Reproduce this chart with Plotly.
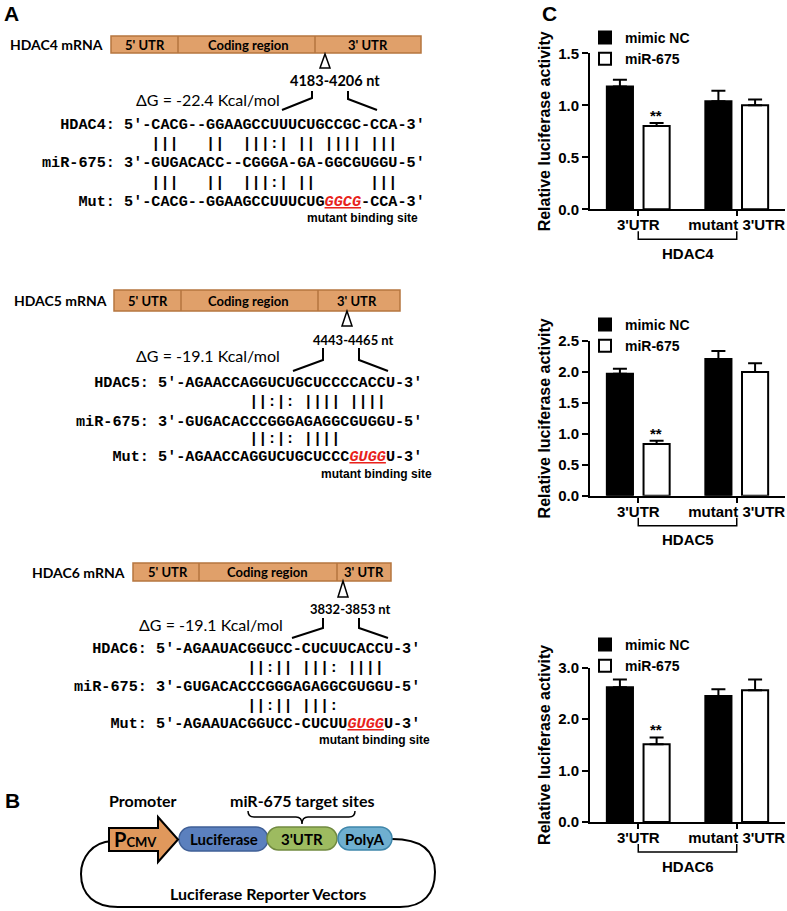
import plotly.graph_objects as go

W, H = 787, 911


def X(px):
    return px / W


def Y(py):
    return 1 - py / H


# ---------------- data: panel C ----------------
categories = ["3'UTR", "mutant 3'UTR"]
series_names = ["mimic NC", "miR-675"]
genes = ["HDAC4", "HDAC5", "HDAC6"]

hdac4_mimic_nc = [1.18, 1.04]
hdac4_mimic_nc_err = [0.065, 0.10]
hdac4_mir675 = [0.80, 1.00]
hdac4_mir675_err = [0.03, 0.055]

hdac5_mimic_nc = [1.97, 2.21]
hdac5_mimic_nc_err = [0.08, 0.13]
hdac5_mir675 = [0.835, 2.00]
hdac5_mir675_err = [0.055, 0.14]

hdac6_mimic_nc = [2.62, 2.45]
hdac6_mimic_nc_err = [0.15, 0.13]
hdac6_mir675 = [1.51, 2.56]
hdac6_mir675_err = [0.135, 0.21]

y_ranges = [[0, 1.5], [0, 2.5], [0, 3.0]]
y_dticks = [0.5, 0.5, 1.0]
signif_marks = ["**", "**", "**"]

# ---------------- data: panel A ----------------
mrna_labels = ["HDAC4 mRNA", "HDAC5 mRNA", "HDAC6 mRNA"]
region_labels = ["5' UTR", "Coding region", "3' UTR"]
site_ranges = ["4183-4206 nt", "4443-4465 nt", "3832-3853 nt"]
delta_g = ["ΔG = -22.4 Kcal/mol", "ΔG = -19.1 Kcal/mol", "ΔG = -19.1 Kcal/mol"]

target_seqs = ["5′-CACG--GGAAGCCUUUCUGCCGC-CCA-3′",
               "5′-AGAACCAGGUCUGCUCCCCACCU-3′",
               "5′-AGAAUACGGUCC-CUCUUCACCU-3′"]
mir_seqs = ["3′-GUGACACC--CGGGA-GA-GGCGUGGU-5′",
            "3′-GUGACACCCGGGAGAGGCGUGGU-5′",
            "3′-GUGACACCCGGGAGAGGCGUGGU-5′"]
mut_prefix = ["5′-CACG--GGAAGCCUUUCUG", "5′-AGAACCAGGUCUGCUCCC", "5′-AGAAUACGGUCC-CUCUU"]
mut_site = ["GGCG", "GUGG", "GUGG"]
mut_suffix = ["-CCA-3′", "U-3′", "U-3′"]
pairs_wt = ["   |||   ||  |||:| || |||| |||",
            "          ||:|: |||| ||||",
            "          ||:|| |||: ||||"]
pairs_mut = ["   |||   ||  |||:| ||      |||",
             "          ||:|: ||||",
             "          ||:|| |||:"]

# ---------------- data: panel B ----------------
vector_parts = ["Luciferase", "3'UTR", "PolyA"]

# ---------------- styles / layout geometry ----------------
SANS = "Liberation Sans, Arial, sans-serif"
CAL = "Lato, Open Sans, sans-serif"
MONO = "Liberation Mono, Courier New, monospace"
ORANGE = "#E0A06A"
ORANGE_LINE = "#B5753F"

shapes = []
annotations = []


def text(x, y, t, size, family=SANS, bold=True, xanchor="center", yanchor="middle",
         color="black", textangle=0):
    annotations.append(dict(
        x=X(x), y=Y(y), xref="paper", yref="paper", text=t, showarrow=False,
        xanchor=xanchor, yanchor=yanchor, borderpad=0, textangle=textangle,
        font=dict(family=family, size=size, color=color, weight="bold" if bold else "normal")))


def pth(points, closed=False):
    s = "M" + " L".join(f"{X(px):.5f},{Y(py):.5f}" for px, py in points)
    return s + (" Z" if closed else "")


# panel letters
text(3, 13, "A", 21, xanchor="left")
text(4, 800, "B", 21, xanchor="left")
text(541, 13, "C", 21, xanchor="left")

# ---------------- panel A ----------------
A_geom = [
    dict(bar=(111, 421, 36, 53), div=(178, 315), lab=(145, 248, 368), name_r=104, name_y=45,
         tri=(325, 54, 68), rng=(335, 80), rng_size=14.5, dg=(208, 99),
         left=[(312, 91), (312, 98), (282, 110)], right=[(348, 91), (348, 99), (377, 110)],
         seq_x=41, ys=(125, 144, 163, 182.5, 202), mbs=(362, 218)),
    dict(bar=(114, 400, 290, 311), div=(181, 318), lab=(148, 248, 357), name_r=108, name_y=301,
         tri=(347, 311, 326), rng=(353, 340), rng_size=13, dg=(208, 356),
         left=[(323, 348), (323, 360), (293, 371)], right=[(359, 348), (359, 360), (388, 371)],
         seq_x=75, ys=(383, 402.5, 422, 439, 457), mbs=(376, 474)),
    dict(bar=(133, 391, 563, 581), div=(199, 337), lab=(168, 267, 364), name_r=126, name_y=572,
         tri=(343, 581, 597), rng=(350, 609), rng_size=13, dg=(211, 624),
         left=[(323, 618), (323, 628), (292, 638)], right=[(359, 618), (359, 628), (388, 638)],
         seq_x=73, ys=(649, 668, 687, 706, 724), mbs=(374, 740)),
]

NB = "\u00a0"
for i, g in enumerate(A_geom):
    x0, x1, y0, y1 = g["bar"]
    shapes.append(dict(type="rect", xref="paper", yref="paper", x0=X(x0), x1=X(x1), y0=Y(y1), y1=Y(y0),
                       fillcolor=ORANGE, line=dict(color=ORANGE_LINE, width=1.5)))
    for d in g["div"]:
        shapes.append(dict(type="line", xref="paper", yref="paper", x0=X(d), x1=X(d), y0=Y(y1), y1=Y(y0),
                           line=dict(color=ORANGE_LINE, width=1.5)))
    ym = (y0 + y1) / 2
    for lx, lt in zip(g["lab"], region_labels):
        text(lx, ym, lt, 13, family=CAL)
    text(g["name_r"], g["name_y"], mrna_labels[i], 14, family=CAL, xanchor="right")
    tx, ta, tb = g["tri"]
    shapes.append(dict(type="path", xref="paper", yref="paper",
                       path=pth([(tx, ta), (tx - 5, tb), (tx + 5, tb)], closed=True),
                       fillcolor="white", line=dict(color="black", width=1.5)))
    text(g["rng"][0], g["rng"][1], site_ranges[i], g["rng_size"], family=CAL)
    text(g["dg"][0], g["dg"][1], delta_g[i], 16, family=CAL, bold=False)
    for side in ("left", "right"):
        shapes.append(dict(type="path", xref="paper", yref="paper", path=pth(g[side]),
                           line=dict(color="black", width=2)))
    # sequences (monospace, all lines left aligned at the same x)
    lab_w = 8
    ys = g["ys"]
    l1 = (genes[i] + ":").rjust(lab_w) + " " + target_seqs[i]
    l2 = " " * (lab_w + 1) + pairs_wt[i]
    l3 = "miR-675:".rjust(lab_w) + " " + mir_seqs[i]
    l4 = " " * (lab_w + 1) + pairs_mut[i]
    l5a = "Mut:".rjust(lab_w) + " " + mut_prefix[i]
    l5 = (l5a.replace(" ", NB) + "<span style='color:#E8221B'><i><u>" + mut_site[i] + "</u></i></span>"
          + mut_suffix[i])
    for yy, ln in zip(ys, [l1.replace(" ", NB), l2.replace(" ", NB), l3.replace(" ", NB),
                           l4.replace(" ", NB), l5]):
        text(g["seq_x"], yy, ln, 15.2, family=MONO, xanchor="left")
    text(g["mbs"][0], g["mbs"][1], "mutant binding site", 12, family=SANS)

# ---------------- panel B ----------------
text(143, 800, "Promoter", 16, family=CAL)
text(302, 800, "miR-675 target sites", 16, family=CAL)
# brace
shapes.append(dict(type="path", xref="paper", yref="paper", line=dict(color="black", width=1.5),
                   path=(f"M{X(248):.5f},{Y(811):.5f} Q{X(248):.5f},{Y(817):.5f} {X(254):.5f},{Y(817):.5f} "
                         f"L{X(296):.5f},{Y(817):.5f} Q{X(302):.5f},{Y(817):.5f} {X(302):.5f},{Y(824):.5f} "
                         f"Q{X(302):.5f},{Y(817):.5f} {X(308):.5f},{Y(817):.5f} "
                         f"L{X(349):.5f},{Y(817):.5f} Q{X(355):.5f},{Y(817):.5f} {X(355):.5f},{Y(811):.5f}")))
# loop
shapes.append(dict(type="path", xref="paper", yref="paper", line=dict(color="black", width=2),
                   path=(f"M{X(112):.5f},{Y(841):.5f} C{X(92):.5f},{Y(842):.5f} {X(81):.5f},{Y(858):.5f} {X(81):.5f},{Y(874):.5f} "
                         f"C{X(81):.5f},{Y(895):.5f} {X(95):.5f},{Y(907):.5f} {X(118):.5f},{Y(907):.5f} "
                         f"L{X(400):.5f},{Y(907):.5f} "
                         f"C{X(424):.5f},{Y(907):.5f} {X(435):.5f},{Y(893):.5f} {X(435):.5f},{Y(872):.5f} "
                         f"C{X(435):.5f},{Y(852):.5f} {X(423):.5f},{Y(839):.5f} {X(392):.5f},{Y(839):.5f}")))


def pill(x0, x1, y0, y1, fill, line):
    r = (y1 - y0) / 2
    p = (f"M{X(x0 + r):.5f},{Y(y0):.5f} L{X(x1 - r):.5f},{Y(y0):.5f} "
         f"C{X(x1 - r * 0.45):.5f},{Y(y0):.5f} {X(x1):.5f},{Y(y0 + r * 0.45):.5f} {X(x1):.5f},{Y(y0 + r):.5f} "
         f"C{X(x1):.5f},{Y(y1 - r * 0.45):.5f} {X(x1 - r * 0.45):.5f},{Y(y1):.5f} {X(x1 - r):.5f},{Y(y1):.5f} "
         f"L{X(x0 + r):.5f},{Y(y1):.5f} "
         f"C{X(x0 + r * 0.45):.5f},{Y(y1):.5f} {X(x0):.5f},{Y(y1 - r * 0.45):.5f} {X(x0):.5f},{Y(y1 - r):.5f} "
         f"C{X(x0):.5f},{Y(y0 + r * 0.45):.5f} {X(x0 + r * 0.45):.5f},{Y(y0):.5f} {X(x0 + r):.5f},{Y(y0):.5f} Z")
    shapes.append(dict(type="path", xref="paper", yref="paper", path=p, fillcolor=fill,
                       line=dict(color=line, width=1.5)))


pill(179, 268, 827, 851, "#5B80BE", "#3F5F96")
pill(267, 337, 827, 850, "#9DBB60", "#718A40")
pill(338, 392, 827, 850, "#6FAFD0", "#3F86AA")
text(224, 839, vector_parts[0], 15, family=CAL)
text(302, 839, vector_parts[1], 15, family=CAL)
text(365, 839, vector_parts[2], 15, family=CAL)
# promoter arrow
shapes.append(dict(type="path", xref="paper", yref="paper",
                   path=pth([(109, 828), (158, 828), (158, 817), (178, 839.5), (158, 862), (158, 851), (109, 851)],
                            closed=True),
                   fillcolor="#E0985C", line=dict(color="black", width=2)))
text(135, 839, "P<span style='font-size:13px'>CMV</span>", 20, family=CAL)
text(268, 893, "Luciferase Reporter Vectors", 16, family=CAL)

# ---------------- panel C ----------------
fig = go.Figure()
c_geom = [dict(zero=209.3, top=53.3), dict(zero=495.7, top=341), dict(zero=822, top=667.7)]
panel_data = [
    (hdac4_mimic_nc, hdac4_mimic_nc_err, hdac4_mir675, hdac4_mir675_err),
    (hdac5_mimic_nc, hdac5_mimic_nc_err, hdac5_mir675, hdac5_mir675_err),
    (hdac6_mimic_nc, hdac6_mimic_nc_err, hdac6_mir675, hdac6_mir675_err),
]
legend_tops = [22, 309, 629]
axis_font = dict(family=SANS, size=15, color="black", weight="bold")

layout_axes = {}
for k, (g, (nc, nce, mi, mie)) in enumerate(zip(c_geom, panel_data)):
    sfx = "" if k == 0 else str(k + 1)
    xa, ya = "x" + sfx, "y" + sfx
    lg = "legend" + sfx
    fig.add_trace(go.Bar(
        x=categories, y=nc, name=series_names[0], xaxis=xa, yaxis=ya, legend=lg,
        marker=dict(color="black", line=dict(color="black", width=2)),
        error_y=dict(type="data", array=nce, arrayminus=[0] * len(nce), symmetric=False,
                     color="black", thickness=2, width=7)))
    fig.add_trace(go.Bar(
        x=categories, y=mi, name=series_names[1], xaxis=xa, yaxis=ya, legend=lg,
        marker=dict(color="white", line=dict(color="black", width=2)),
        error_y=dict(type="data", array=mie, arrayminus=[0] * len(mie), symmetric=False,
                     color="black", thickness=2, width=7)))
    layout_axes["xaxis" + sfx] = dict(
        domain=[X(590), X(785)], anchor=ya, type="category", range=[-0.49, 1.49],
        showline=True, linecolor="black", linewidth=2, ticks="outside", ticklen=5, tickwidth=2,
        tickcolor="black", tickfont=axis_font, showgrid=False, zeroline=False, fixedrange=True,
        ticklabelstandoff=-4, automargin=False)
    layout_axes["yaxis" + sfx] = dict(
        domain=[Y(g["zero"]), Y(g["top"])], anchor=xa, range=y_ranges[k], dtick=y_dticks[k],
        tick0=0, tickformat=".1f", showline=True, linecolor="black", linewidth=2, ticks="outside",
        ticklen=6, tickwidth=2, tickcolor="black", tickfont=axis_font, showgrid=False,
        zeroline=False, fixedrange=True, automargin=False,
        title=dict(text="Relative luciferase activity", standoff=4,
                   font=dict(family=SANS, size=16, color="black", weight="bold")))
    layout_axes[lg] = dict(x=X(585), y=Y(legend_tops[k]), xanchor="left", yanchor="top",
                           bgcolor="rgba(0,0,0,0)", tracegroupgap=0, itemclick=False,
                           font=dict(family=SANS, size=14, color="black", weight="bold"))
    # significance
    annotations.append(dict(x=categories[0], y=mi[0] + mie[0], xref=xa, yref=ya, text=signif_marks[k],
                            showarrow=False, xshift=18, yshift=-3, yanchor="bottom",
                            font=dict(family=SANS, size=15, color="black", weight="bold")))
    # bracket + gene label
    z = g["zero"]
    shapes.append(dict(type="path", xref=xa, yref="paper",
                       path=f"M0,{Y(z + 22):.5f} L0,{Y(z + 30):.5f} L1,{Y(z + 30):.5f} L1,{Y(z + 22):.5f}",
                       line=dict(color="black", width=1.5)))
    annotations.append(dict(x=0.5, y=Y(z + 44), xref=xa, yref="paper", text=genes[k], showarrow=False,
                            yanchor="middle",
                            font=dict(family=SANS, size=15, color="black", weight="bold")))

fig.update_layout(
    width=W, height=H, autosize=False, margin=dict(l=0, r=0, t=0, b=0, pad=0, autoexpand=False),
    paper_bgcolor="white", plot_bgcolor="white",
    barmode="group", bargap=0.255, bargroupgap=0.288,
    showlegend=True, shapes=shapes, annotations=annotations,
    font=dict(family=SANS, color="black"),
    **layout_axes)

fig.write_html("out.html", config={"displayModeBar": False},
               post_script="document.body.style.margin='0';document.body.style.overflow='hidden';")
